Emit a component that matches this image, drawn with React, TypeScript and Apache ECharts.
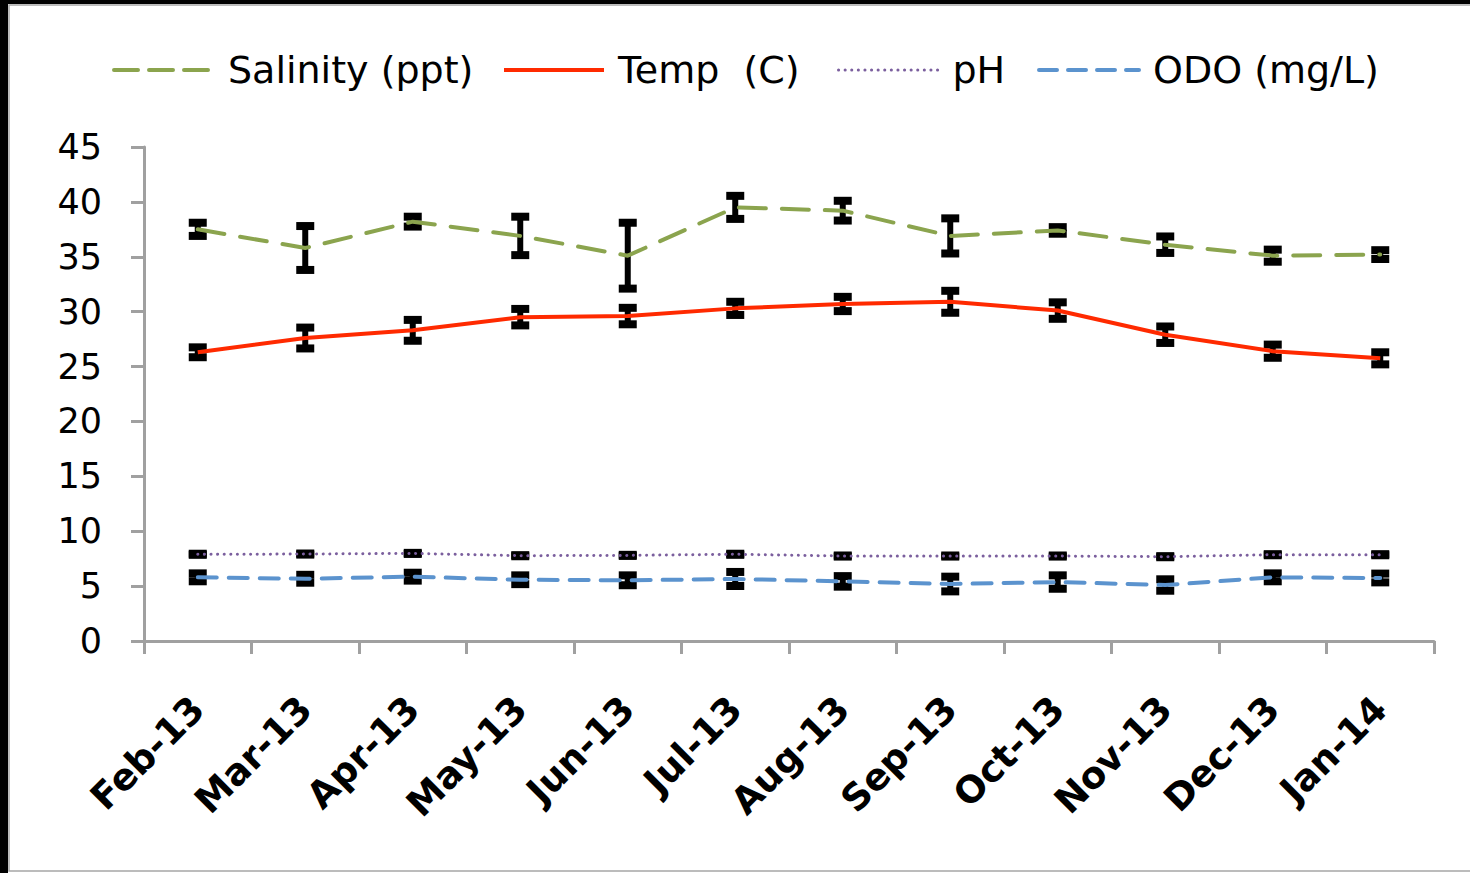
import React, { useEffect, useRef } from "react";
import * as echarts from "echarts";

const categories = ["Feb-13", "Mar-13", "Apr-13", "May-13", "Jun-13", "Jul-13", "Aug-13", "Sep-13", "Oct-13", "Nov-13", "Dec-13", "Jan-14"];
const salinity = [37.5, 35.8, 38.2, 36.9, 35.1, 39.5, 39.2, 36.9, 37.4, 36.1, 35.1, 35.2];
const salinityErr = [0.6, 2.0, 0.45, 1.75, 3.0, 1.05, 0.9, 1.6, 0.3, 0.75, 0.55, 0.4];
const temp = [26.3, 27.6, 28.3, 29.5, 29.6, 30.3, 30.7, 30.9, 30.1, 27.9, 26.4, 25.75];
const tempErr = [0.45, 0.95, 0.95, 0.75, 0.75, 0.6, 0.65, 1.0, 0.75, 0.75, 0.6, 0.55];
const ph = [7.9, 7.92, 7.98, 7.77, 7.8, 7.9, 7.74, 7.74, 7.74, 7.68, 7.86, 7.86];
const phErr = [0.05, 0.05, 0.05, 0.05, 0.05, 0.05, 0.05, 0.05, 0.05, 0.05, 0.05, 0.05];
const odo = [5.8, 5.67, 5.86, 5.58, 5.53, 5.65, 5.43, 5.19, 5.37, 5.1, 5.8, 5.74];
const odoErr = [0.36, 0.36, 0.36, 0.4, 0.45, 0.64, 0.48, 0.67, 0.61, 0.52, 0.36, 0.4];
const yTicks = { min: 0, max: 45, interval: 5 };
const seriesNames = ["Salinity (ppt)", "Temp  (C)", "pH", "ODO (mg/L)"];
const legendLefts = [107, 497, 832, 1032];

const colors = ["#8BA44E", "#FF2A00", "#7B5F9E", "#5B93CE"];
const lineStyles: any[] = [
  { color: colors[0], width: 4, type: [27, 16], cap: "round" },
  { color: colors[1], width: 4, type: "solid" },
  { color: colors[2], width: 3, type: [0.1, 6.5], cap: "round" },
  { color: colors[3], width: 4, type: [19, 12], cap: "round" },
];
const legendLineStyles: any[] = [
  { color: colors[0], width: 4, type: [24, 11], cap: "round" },
  { color: colors[1], width: 4, type: "solid" },
  { color: colors[2], width: 3, type: [0.1, 6.5], cap: "round" },
  { color: colors[3], width: 4, type: [18, 11], cap: "round" },
];

function errData(vals: number[], errs: number[]) {
  return vals.map((v, i) => [i, v - errs[i], v + errs[i]]);
}

function errorSeries(vals: number[], errs: number[]) {
  return {
    type: "custom",
    silent: true,
    z: 1,
    data: errData(vals, errs),
    encode: { x: 0, y: [1, 2] },
    renderItem: (params: any, api: any) => {
      const i = api.value(0);
      const lo = api.coord([i, api.value(1)]);
      const hi = api.coord([i, api.value(2)]);
      const capW = 18;
      const capH = 8;
      return {
        type: "group",
        children: [
          {
            type: "line",
            shape: { x1: lo[0], y1: lo[1], x2: hi[0], y2: hi[1] },
            style: { stroke: "#000", lineWidth: 6 },
          },
          {
            type: "rect",
            shape: { x: hi[0] - capW / 2, y: hi[1] - capH / 2, width: capW, height: capH },
            style: { fill: "#000" },
          },
          {
            type: "rect",
            shape: { x: lo[0] - capW / 2, y: lo[1] - capH / 2, width: capW, height: capH },
            style: { fill: "#000" },
          },
        ],
      };
    },
  };
}

export default function App() {
  const ref = useRef<HTMLDivElement>(null);
  useEffect(() => {
    document.body.style.margin = "0";
    const chart = echarts.init(ref.current!, null, { renderer: "svg" });
    const font = "DejaVu Sans";
    const valueSets = [salinity, temp, ph, odo];
    chart.setOption({
      animation: false,
      backgroundColor: "#fff",
      textStyle: { fontFamily: font },
      graphic: [
        { type: "rect", shape: { x: 0, y: 0, width: 1470, height: 4 }, style: { fill: "#000" }, silent: true },
        { type: "rect", shape: { x: 0, y: 0, width: 8, height: 873 }, style: { fill: "#000" }, silent: true },
        {
          type: "rect",
          shape: { x: 9, y: 5, width: 1475, height: 866 },
          style: { fill: "none", stroke: "#a6a6a6", lineWidth: 1.5 },
          silent: true,
        },
      ],
      legend: seriesNames.map((n, i) => ({
        data: [{ name: n, lineStyle: legendLineStyles[i] }],
        left: legendLefts[i],
        top: 46,
        itemWidth: 100,
        itemHeight: 14,
        itemStyle: { opacity: 0 },
        textStyle: { fontSize: 38, color: "#000", fontFamily: font, padding: [0, 0, 0, 9] },
      })),
      grid: { left: 144, right: 36, top: 147, bottom: 232, containLabel: false },
      xAxis: {
        type: "category",
        data: categories,
        boundaryGap: true,
        axisLine: { lineStyle: { color: "#a0a0a0", width: 3 } },
        axisTick: { show: true, length: 13, interval: 0, lineStyle: { color: "#a0a0a0", width: 3 } },
        axisLabel: {
          interval: 0,
          rotate: 45,
          margin: 62,
          fontSize: 37,
          fontWeight: "bold",
          color: "#000",
          fontFamily: font,
        },
        splitLine: { show: false },
      },
      yAxis: {
        type: "value",
        min: yTicks.min,
        max: yTicks.max,
        interval: yTicks.interval,
        axisLine: { show: true, lineStyle: { color: "#a0a0a0", width: 3 } },
        axisTick: { show: true, length: 13, lineStyle: { color: "#a0a0a0", width: 3 } },
        axisLabel: { margin: 42, fontSize: 35, color: "#000", fontFamily: font },
        splitLine: { show: false },
      },
      series: [
        errorSeries(salinity, salinityErr),
        errorSeries(temp, tempErr),
        errorSeries(ph, phErr),
        errorSeries(odo, odoErr),
        ...seriesNames.map((n, i) => ({
          name: n,
          type: "line",
          data: valueSets[i],
          symbol: "none",
          z: 3,
          color: colors[i],
          lineStyle: lineStyles[i],
        })),
      ],
    });
    return () => chart.dispose();
  }, []);
  return <div ref={ref} style={{ width: 1470, height: 873 }} />;
}
